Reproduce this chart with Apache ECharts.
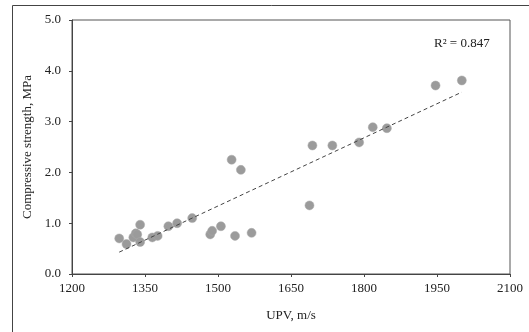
<!DOCTYPE html>
<html lang="en">
<head>
    <meta charset="UTF-8">
    <title>UPV vs compressive strength</title>
    <script src="https://cdn.jsdelivr.net/npm/echarts@6/dist/echarts.min.js"></script>
</head>
<body style="margin:0">
    <div id="ec" style="width:529px;height:332px"></div>
</body>
<script>
    // measured points: UPV (m/s) and compressive strength (MPa)
    var upv = [1297, 1312, 1326, 1331, 1334, 1340, 1340, 1365, 1376, 1398, 1416, 1447, 1484, 1488,
               1506, 1528, 1535, 1547, 1569, 1688, 1694, 1735, 1790, 1818, 1847, 1947, 2001]
    var strength = [0.70, 0.59, 0.72, 0.80, 0.78, 0.97, 0.63, 0.72, 0.75, 0.94, 1.00, 1.10, 0.78, 0.85,
                    0.94, 2.25, 0.75, 2.05, 0.81, 1.35, 2.53, 2.53, 2.59, 2.89, 2.87, 3.71, 3.81]
    // linear trend line end points
    var trendX = [1297, 2001]
    var trendY = [0.43, 3.58]
    var xTicks = [1200, 1350, 1500, 1650, 1800, 1950, 2100]
    var yTicks = [0.0, 1.0, 2.0, 3.0, 4.0, 5.0]

    var pts = upv.map(function (v, i) { return [v, strength[i]] })
    var trend = trendX.map(function (v, i) { return [v, trendY[i]] })

    var font = '"Liberation Serif", "Times New Roman", serif'
    var chart = echarts.init(document.getElementById('ec'))
    var option = {
        animation: false,
        textStyle: { fontFamily: font },
        graphic: [{
            type: 'rect',
            shape: { x: 12.5, y: 5.5, width: 600, height: 400 },
            style: { fill: 'none', stroke: '#444', lineWidth: 1 },
            silent: true
        }],
        grid: {
            left: 72, right: 19, top: 20, bottom: 58,
            show: true, borderColor: '#555', borderWidth: 1
        },
        xAxis: {
            type: 'value',
            min: xTicks[0], max: xTicks[xTicks.length - 1], interval: 150,
            name: 'UPV, m/s', nameLocation: 'middle', nameGap: 35,
            nameTextStyle: { fontFamily: font, fontSize: 13, color: '#222' },
            axisLine: { lineStyle: { color: '#444' } },
            axisTick: { show: true, length: 3, lineStyle: { color: '#444' } },
            axisLabel: {
                fontFamily: font, fontSize: 13, color: '#222', margin: 8,
                formatter: function (v) { return String(v) }
            },
            splitLine: { show: false }
        },
        yAxis: {
            type: 'value',
            min: yTicks[0], max: yTicks[yTicks.length - 1], interval: 1,
            name: 'Compressive strength, MPa', nameLocation: 'middle', nameGap: 38,
            nameTextStyle: { fontFamily: font, fontSize: 13, color: '#222' },
            axisLine: { show: true, lineStyle: { color: '#444' } },
            axisTick: { show: true, length: 3, lineStyle: { color: '#444' } },
            axisLabel: {
                fontFamily: font, fontSize: 13, color: '#222', margin: 11,
                formatter: function (v) { return v.toFixed(1) }
            },
            splitLine: { show: false }
        },
        series: [
            {
                type: 'line',
                data: trend,
                symbol: 'none',
                lineStyle: { color: '#444', width: 1, type: [4, 3] },
                z: 3
            },
            {
                type: 'scatter',
                data: pts,
                symbolSize: 9,
                itemStyle: { color: '#9b9b9b', borderColor: '#a8a8a8', borderWidth: 0.5, opacity: 1 },
                z: 2
            }
        ]
    }
    option.graphic.push({
        type: 'text',
        left: 434, top: 37,
        style: { text: 'R² = 0.847', font: '13px ' + font, fill: '#222' },
        silent: true
    })
    chart.setOption(option)
</script>
</html>
